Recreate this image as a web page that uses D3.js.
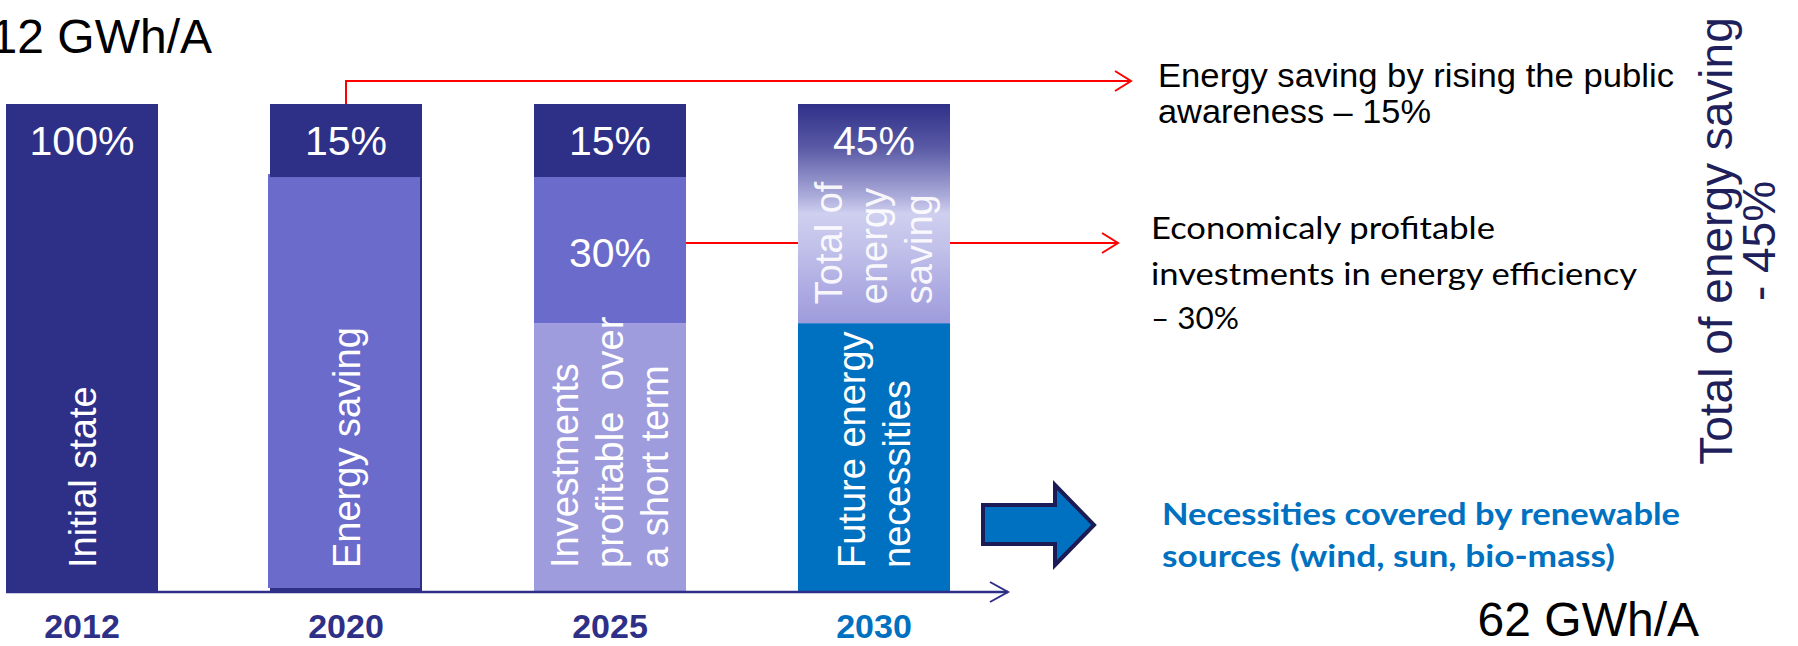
<!DOCTYPE html>
<html>
<head>
<meta charset="utf-8">
<script src="https://cdn.jsdelivr.net/npm/d3@7/dist/d3.min.js"></script>
<style>
  html, body { margin: 0; padding: 0; background: #ffffff; }
  svg { display: block; }
  text { font-family: "Liberation Sans", Arial, sans-serif; }
</style>
</head>
<body>
<svg id="chart" width="1798" height="646"></svg>
<script>
// Shares of the 2012 consumption (112 GWh/A), per milestone year
const years = ["2012", "2020", "2025", "2030"];
const remainingShare = [100, 85, 55, 55];   // consumption left after savings
const efficiencyShare = [0, 0, 30, 0];      // profitable efficiency investments
const awarenessShare = [0, 15, 15, 0];      // public awareness savings
const totalSavingShare = [0, 0, 0, 45];     // combined saving in 2030

const baseColors = ["#2E3087", "#6B6BCB", "#9E9CDD", "#0070C0"];
const yearColors = ["#2E3087", "#2E3087", "#2E3087", "#0070C0"];
const baseLabels = [
  ["Initial state"],
  ["Energy saving"],
  ["Investments", "profitable  over", "a short term"],
  ["Future energy", "necessities"]
];
const savingLabel = ["Total of", "energy", "saving"];

const startTotal = "112 GWh/A";
const endTotal = "62 GWh/A";
const awarenessNote = ["Energy saving by rising the public", "awareness – 15%"];
const efficiencyNote = ["Economicaly profitable", "investments in energy efficiency", "– 30%"];
const renewableNote = ["Necessities covered by renewable", "sources (wind, sun, bio-mass)"];
const totalNote = ["Total of energy saving", "- 45%"];

const navy = "#2E3087";
const medium = "#6B6BCB";
const red = "#FF0000";

const svg = d3.select("#chart");

const rows = years.map((yr, i) => ({
  year: yr,
  remaining: remainingShare[i],
  efficiency: efficiencyShare[i],
  awareness: awarenessShare[i],
  totalSaving: totalSavingShare[i]
}));
const keys = ["remaining", "efficiency", "awareness", "totalSaving"];
const series = d3.stack().keys(keys)(rows);

const x = d3.scaleBand().domain(years).range([6, 950]).paddingInner(0.4242).paddingOuter(0);
const y = d3.scaleLinear().domain([0, 100]).range([591, 104]);
const bw = x.bandwidth();
const cx = yr => x(yr) + bw / 2;

// Gradient for the combined 2030 saving block
const defs = svg.append("defs");
const grad = defs.append("linearGradient").attr("id", "savingGrad")
  .attr("x1", 0).attr("y1", 0).attr("x2", 0).attr("y2", 1);
[[0, "#2F3088"], [0.2, "#5A5AA6"], [0.32, "#8686C2"], [0.42, "#ABABDA"], [0.5, "#CFCFF0"],
 [0.65, "#C2C2EA"], [0.82, "#B0AEE3"], [1, "#9F9BDC"]]
  .forEach(([o, c]) => grad.append("stop").attr("offset", o).attr("stop-color", c));

// Red connectors to the notes (drawn under the bars)
const conn = svg.append("g").attr("fill", "none").attr("stroke", red).attr("stroke-width", 2);
const yr2020 = years[1], yr2025 = years[2];
const line1Y = 81, line1End = 1131;
const line2Y = 243, line2End = 1118;
conn.append("path").attr("d", `M${cx(yr2020)},${y(100)}V${line1Y}H${line1End}`);
conn.append("path").attr("d", `M${line1End - 16},${line1Y - 10}L${line1End},${line1Y}L${line1End - 16},${line1Y + 10}`);
conn.append("path").attr("d", `M${x(yr2025) + bw},${line2Y}H${line2End}`);
conn.append("path").attr("d", `M${line2End - 16},${line2Y - 10}L${line2End},${line2Y}L${line2End - 16},${line2Y + 10}`);

// Bars
const segColor = (key, i) => {
  if (key === "remaining") return baseColors[i];
  if (key === "efficiency") return medium;
  if (key === "awareness") return navy;
  return "url(#savingGrad)";
};
const bars = svg.append("g");
series.forEach(s => {
  s.forEach((d, i) => {
    if (d[1] - d[0] <= 0) return;
    const yr = d.data.year;
    const shadowed = s.key === "remaining" && i === 1;
    if (shadowed) {
      bars.append("rect").attr("x", x(yr)).attr("y", y(d[1])).attr("width", bw)
        .attr("height", y(d[0]) - y(d[1])).attr("fill", navy);
    }
    bars.append("rect")
      .attr("x", x(yr) - (shadowed ? 2 : 0))
      .attr("y", y(d[1]) - (shadowed ? 3 : 0))
      .attr("width", bw)
      .attr("height", y(d[0]) - y(d[1]))
      .attr("fill", segColor(s.key, i));
  });
});

// Percentage labels: top segment near its top edge, efficiency centred
const labels = svg.append("g").attr("fill", "#ffffff").attr("font-size", 41).attr("text-anchor", "middle");
rows.forEach((r, i) => {
  const topKey = keys.filter(k => r[k] > 0).slice(-1)[0];
  const top = series.find(s => s.key === topKey)[i];
  labels.append("text").attr("x", cx(r.year)).attr("y", y(top[1]) + 51).text(r[topKey] + "%");
  if (r.efficiency > 0) {
    const e = series.find(s => s.key === "efficiency")[i];
    labels.append("text").attr("x", cx(r.year)).attr("y", (y(e[0]) + y(e[1])) / 2 + 17)
      .text(r.efficiency + "%");
  }
});

// Rotated captions inside the bars
function verticalLines(g, lines, centerX, startY, opts) {
  const lh = 45, n = lines.length;
  lines.forEach((t, k) => {
    const bx = centerX + 13.5 + (k - (n - 1) / 2) * lh;
    g.append("text")
      .attr("transform", `translate(${bx},${startY}) rotate(-90)`)
      .attr("font-size", 38)
      .attr("fill", opts.fill)
      .attr("fill-opacity", opts.opacity)
      .style("white-space", "pre")
      .text(t);
  });
}
const captions = svg.append("g");
rows.forEach((r, i) => {
  verticalLines(captions, baseLabels[i], cx(r.year), y(0) - 23, { fill: "#ffffff", opacity: 1 });
  if (r.totalSaving > 0) {
    verticalLines(captions, savingLabel, cx(r.year), y(r.remaining) - 19, { fill: "#ffffff", opacity: 0.92 });
  }
});

// Time axis with open arrow head
const axisY = 592, axisEnd = 1008;
svg.append("path").attr("d", `M${x(years[0])},${axisY}H${axisEnd}`)
  .attr("stroke", navy).attr("stroke-width", 2.5).attr("fill", "none");
svg.append("path").attr("d", `M${axisEnd - 18},${axisY - 10}L${axisEnd},${axisY}L${axisEnd - 18},${axisY + 10}`)
  .attr("stroke", navy).attr("stroke-width", 2).attr("fill", "none");

// Year labels
svg.append("g").selectAll("text").data(years).join("text")
  .attr("x", d => cx(d))
  .attr("y", 638)
  .attr("text-anchor", "middle")
  .attr("font-size", 34).attr("font-weight", "bold")
  .attr("fill", (d, i) => yearColors[i])
  .text(d => d);

// Consumption totals
svg.append("text").attr("x", 212).attr("y", 53).attr("text-anchor", "end")
  .attr("font-size", 48).attr("fill", "#000000").text(startTotal);
svg.append("text").attr("x", 1699).attr("y", 636).attr("text-anchor", "end")
  .attr("font-size", 48).attr("fill", "#000000").text(endTotal);

// Notes on the right
const note = svg.append("g").attr("fill", "#000000");
[[87, 516], [123, 273]].forEach(([by, len], k) => {
  note.append("text").attr("x", 1158).attr("y", by).attr("font-size", 34)
    .attr("textLength", len).attr("lengthAdjust", "spacingAndGlyphs").text(awarenessNote[k]);
});
[[239, 344], [285, 486], [329, 88]].forEach(([by, len], k) => {
  note.append("text").attr("x", 1151).attr("y", by).attr("font-size", 30)
    .style("font-family", "Lato, 'Open Sans', sans-serif")
    .attr("textLength", len).attr("lengthAdjust", "spacingAndGlyphs").text(efficiencyNote[k]);
});
[[525, 518], [567, 453]].forEach(([by, len], k) => {
  svg.append("text").attr("x", 1162).attr("y", by).attr("font-size", 31).attr("font-weight", "bold")
    .style("font-family", "Lato, 'Open Sans', sans-serif")
    .attr("fill", "#0070C0")
    .attr("textLength", len).attr("lengthAdjust", "spacingAndGlyphs").text(renewableNote[k]);
});

// Block arrow towards the renewable note
svg.append("path")
  .attr("d", "M983,505H1055V485L1094,525L1055,565V544H983Z")
  .attr("fill", "#0070C0").attr("stroke", "#1B1B55").attr("stroke-width", 4)
  .attr("stroke-linejoin", "miter");

// Vertical summary on the right edge
[[1732, totalNote[0]], [1775, totalNote[1]]].forEach(([bx, t]) => {
  svg.append("text")
    .attr("transform", `translate(${bx},241) rotate(-90)`)
    .attr("text-anchor", "middle").attr("font-size", 46).attr("fill", "#1F1F5C")
    .text(t);
});
</script>
</body>
</html>
